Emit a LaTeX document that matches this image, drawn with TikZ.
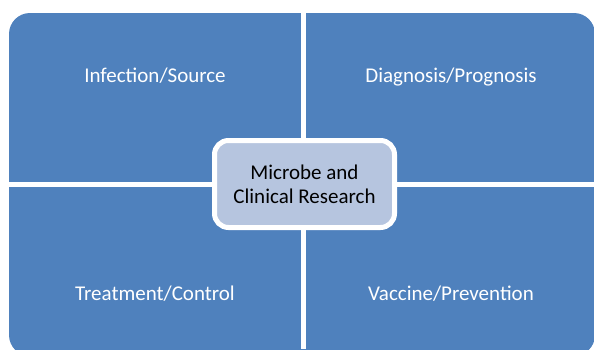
\documentclass[tikz,border=0pt]{standalone}
\usepackage{fontspec}
\setmainfont{Carlito}
\begin{document}
\begin{tikzpicture}[x=1pt,y=-1pt,
    quadtext/.style={text=white, anchor=base, font=\fontsize{21}{25}\selectfont},
    centerbox/.style={draw=white, line width=5pt, fill=bleuClair, rounded corners=14pt,
        minimum width=180pt, minimum height=87pt, align=center, inner sep=0pt,
        font=\fontsize{21}{24}\selectfont}]
        \definecolor{bleuQuad}{RGB}{79, 129, 189}
        \definecolor{bleuClair}{RGB}{182, 197, 223}
        \useasboundingbox (0,0) rectangle (594,349);
        \clip (0,0) rectangle (594,349);
        \fill[bleuQuad, rounded corners=21pt] (9,13) rectangle (595,356);
        \fill[white] (300.5,0) rectangle (306,349);
        \fill[white] (0,182) rectangle (594,187);
        \node[quadtext] (infection) at (155,82) {Infection/Source};
        \node[quadtext] (diagnosis) at (451,82) {Diagnosis/Prognosis};
        \node[quadtext] (treatment) at (155,300) {Treatment/Control};
        \node[quadtext] (vaccine) at (451,300) {Vaccine/Prevention};
        \node[centerbox] (microbe) at (304.5,184) {Microbe and\\Clinical Research};
    \end{tikzpicture}
\end{document}
